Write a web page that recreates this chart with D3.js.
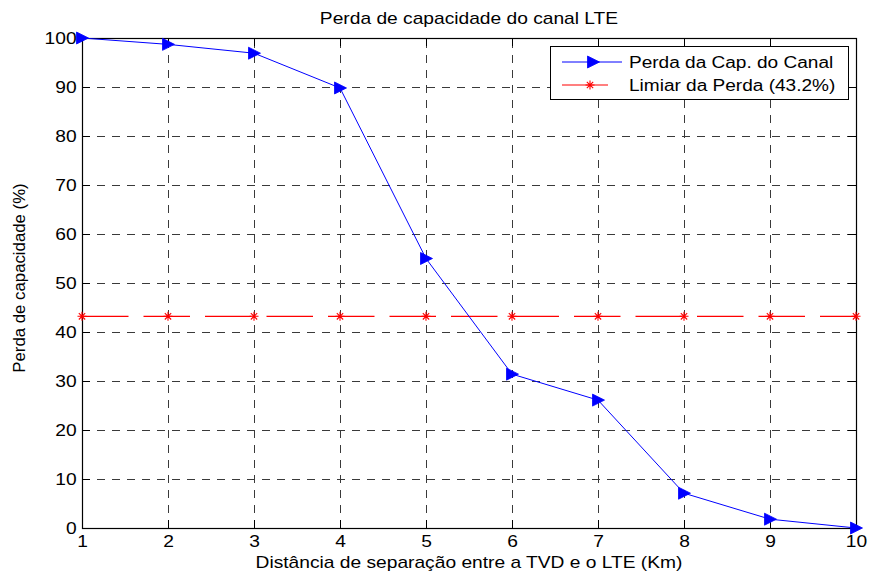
<!DOCTYPE html>
<html>
<head>
<meta charset="utf-8">
<script src="https://cdn.jsdelivr.net/npm/d3@7/dist/d3.min.js"></script>
<style>
  html, body { margin: 0; padding: 0; background: #fff; }
  svg { display: block; font-family: Arial, "Liberation Sans", Helvetica, sans-serif; }
</style>
</head>
<body>
<svg id="chart" width="869" height="572"></svg>
<script>
// Distance (km) and capacity loss (%)
const distances = [1, 2, 3, 4, 5, 6, 7, 8, 9, 10];
const capacityLoss = [100, 98.7, 96.9, 89.8, 55, 31.4, 26.1, 7.1, 1.8, 0];
const lossThreshold = [43.2, 43.2, 43.2, 43.2, 43.2, 43.2, 43.2, 43.2, 43.2, 43.2];

const xTicks = [1, 2, 3, 4, 5, 6, 7, 8, 9, 10];
const yTicks = [0, 10, 20, 30, 40, 50, 60, 70, 80, 90, 100];

const titleText = "Perda de capacidade do canal LTE";
const xLabelText = "Distância de separação entre a TVD e o LTE (Km)";
const yLabelText = "Perda de capacidade (%)";
const legendLabels = ["Perda da Cap. do Canal", "Limiar da Perda (43.2%)"];

const W = 869, H = 572;
const plot = { left: 82, right: 856, top: 38, bottom: 528 };
const FS = 16;     // font size
const SX = 1.2;    // horizontal glyph stretch

const svg = d3.select("#chart");
svg.append("rect").attr("width", W).attr("height", H).attr("fill", "#fff");

const x = d3.scaleLinear().domain([1, 10]).range([plot.left, plot.right]);
const y = d3.scaleLinear().domain([0, 100]).range([plot.bottom, plot.top]);

// Dashed grid
const grid = svg.append("g").attr("stroke", "#3a3a3a").attr("stroke-width", 1)
  .attr("stroke-dasharray", "8,7").attr("fill", "none");
grid.selectAll("line.gx").data(xTicks.slice(1, -1)).join("line")
  .attr("x1", d => Math.round(x(d)) + 0.5).attr("x2", d => Math.round(x(d)) + 0.5)
  .attr("y1", plot.bottom).attr("y2", plot.top);
grid.selectAll("line.gy").data(yTicks.slice(1, -1)).join("line")
  .attr("y1", d => Math.round(y(d)) + 0.5).attr("y2", d => Math.round(y(d)) + 0.5)
  .attr("x1", plot.left).attr("x2", plot.right);

// Axes (ticks point inward)
function styleAxis(g) {
  g.select(".domain").remove();
  g.selectAll("line").attr("stroke", "#000");
  g.selectAll("text").attr("fill", "#000").attr("font-size", FS)
    .attr("font-family", "Arial, 'Liberation Sans', sans-serif");
}
const gxb = svg.append("g").attr("transform", `translate(0,${plot.bottom})`)
  .call(d3.axisBottom(x).tickValues(xTicks).tickFormat(d3.format("d"))
    .tickSize(-8).tickSizeOuter(0).tickPadding(8));
styleAxis(gxb);
gxb.selectAll("text").attr("transform", `scale(${SX},1)`);

const gyl = svg.append("g").attr("transform", `translate(${plot.left},0)`)
  .call(d3.axisLeft(y).tickValues(yTicks).tickFormat(d3.format("d"))
    .tickSize(-8).tickSizeOuter(0).tickPadding(4.5));
styleAxis(gyl);
gyl.selectAll("text").attr("transform", `scale(${SX},1)`).attr("dy", "0.37em");

const gxt = svg.append("g").attr("transform", `translate(0,${plot.top})`)
  .call(d3.axisTop(x).tickValues(xTicks).tickFormat("").tickSize(-8).tickSizeOuter(0));
styleAxis(gxt);
const gyr = svg.append("g").attr("transform", `translate(${plot.right},0)`)
  .call(d3.axisRight(y).tickValues(yTicks).tickFormat("").tickSize(-8).tickSizeOuter(0));
styleAxis(gyr);

// Frame
svg.append("rect")
  .attr("x", plot.left + 0.5).attr("y", plot.top + 0.5)
  .attr("width", plot.right - plot.left).attr("height", plot.bottom - plot.top)
  .attr("fill", "none").attr("stroke", "#000").attr("stroke-width", 1.2);

// Star marker path
function starPath(r) {
  const p = [];
  for (let i = 0; i < 4; i++) {
    const a = i * Math.PI / 4;
    p.push(`M${-r * Math.cos(a)},${-r * Math.sin(a)}L${r * Math.cos(a)},${r * Math.sin(a)}`);
  }
  return p.join("");
}
const triPath = "M-5.5,-6L-5.5,6L6.5,0Z";

// Threshold series (red, long dashes, star markers)
const thr = distances.map((d, i) => [d, lossThreshold[i]]);
svg.append("path").datum(thr)
  .attr("d", d3.line().x(d => x(d[0])).y(d => y(d[1])))
  .attr("fill", "none").attr("stroke", "#ff0000").attr("stroke-width", 1.2)
  .attr("stroke-dasharray", "46.5,15");
svg.append("g").selectAll("path").data(thr).join("path")
  .attr("transform", d => `translate(${x(d[0])},${y(d[1])})`)
  .attr("d", starPath(4.5)).attr("stroke", "#ff0000").attr("stroke-width", 1.1).attr("fill", "none");

// Capacity-loss series (blue, right-pointing triangles)
const loss = distances.map((d, i) => [d, capacityLoss[i]]);
svg.append("path").datum(loss)
  .attr("d", d3.line().x(d => x(d[0])).y(d => y(d[1])))
  .attr("fill", "none").attr("stroke", "#0000ff").attr("stroke-width", 1);
svg.append("g").selectAll("path").data(loss).join("path")
  .attr("transform", d => `translate(${x(d[0])},${y(d[1])})`)
  .attr("d", triPath).attr("fill", "#0000ff").attr("stroke", "#0000ff").attr("stroke-width", 0.8);

// Text helper with horizontal stretch
function label(txt, tx, ty, anchor, rot, sx) {
  return svg.append("text")
    .attr("transform", `translate(${tx},${ty})` + (rot ? ` rotate(${rot})` : "") + ` scale(${sx},1)`)
    .attr("text-anchor", anchor).attr("font-size", FS).attr("fill", "#000")
    .text(txt);
}
label(titleText, (plot.left + plot.right) / 2, 24, "middle", 0, SX);
label(xLabelText, (plot.left + plot.right) / 2, 568, "middle", 0, SX);
label(yLabelText, 25, 278, "middle", -90, 1.05);

// Legend
const lg = svg.append("g");
lg.append("rect").attr("x", 550.5).attr("y", 46.5).attr("width", 298).attr("height", 53)
  .attr("fill", "#fff").attr("stroke", "#000").attr("stroke-width", 1);
const rowY = [62, 85];
lg.append("line").attr("x1", 562).attr("x2", 622).attr("y1", rowY[0]).attr("y2", rowY[0])
  .attr("stroke", "#0000ff").attr("stroke-width", 1);
lg.append("path").attr("transform", `translate(593,${rowY[0]})`).attr("d", triPath)
  .attr("fill", "#0000ff").attr("stroke", "#0000ff").attr("stroke-width", 0.8);
lg.append("line").attr("x1", 562).attr("x2", 608).attr("y1", rowY[1]).attr("y2", rowY[1])
  .attr("stroke", "#ff0000").attr("stroke-width", 1.2);
lg.append("path").attr("transform", `translate(590,${rowY[1]})`).attr("d", starPath(4.5))
  .attr("stroke", "#ff0000").attr("stroke-width", 1.1).attr("fill", "none");
legendLabels.forEach((t, i) => label(t, 629, rowY[i] + 6, "start", 0, 1.19));
</script>
</body>
</html>
